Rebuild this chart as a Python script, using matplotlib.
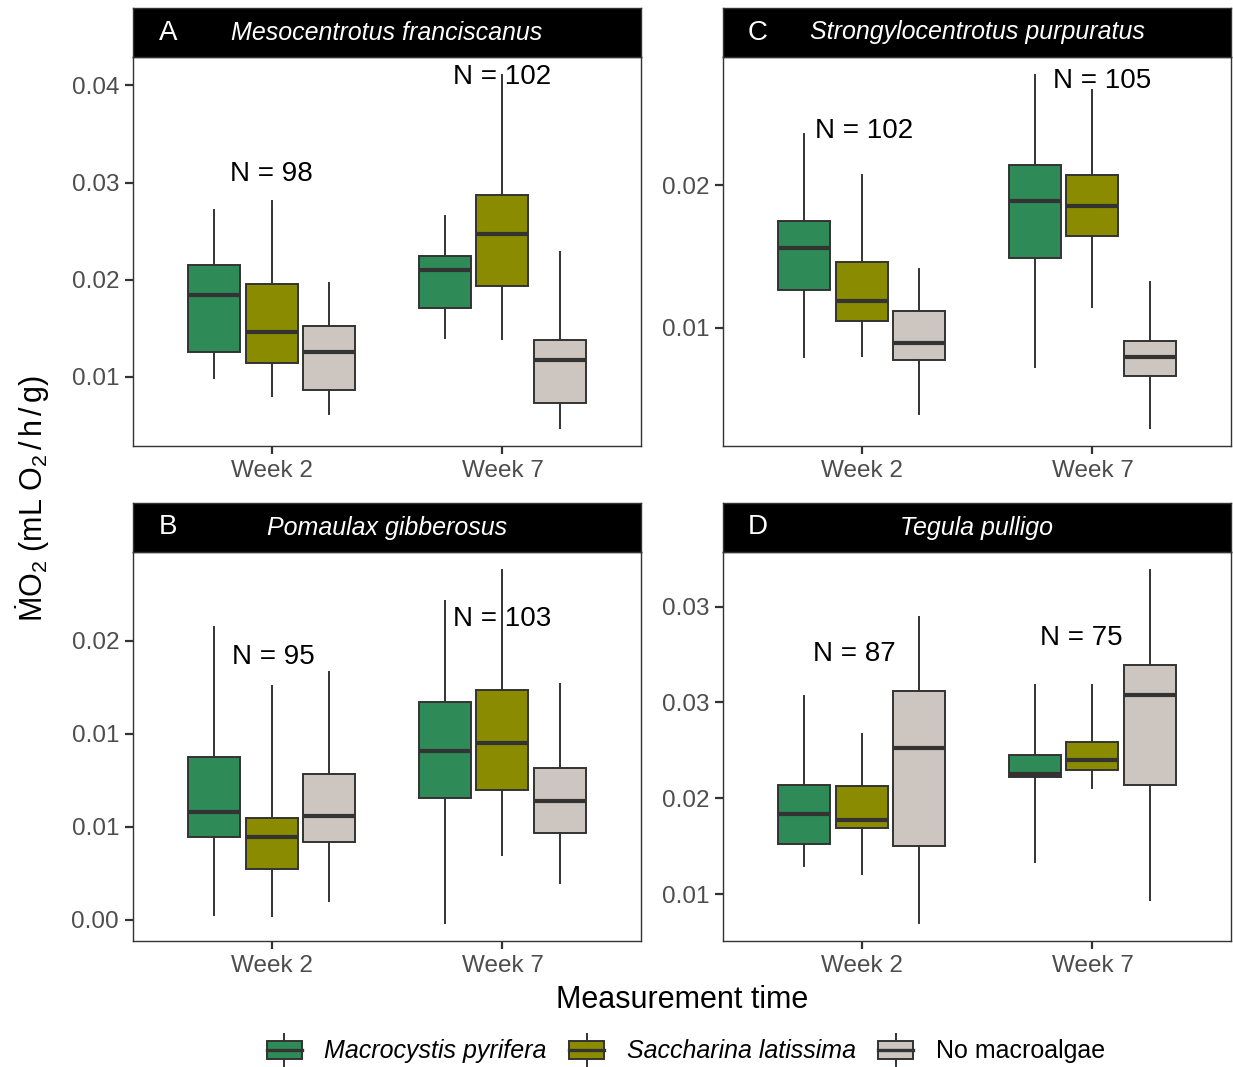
import matplotlib
matplotlib.use("Agg")
import matplotlib.pyplot as plt
from matplotlib.patches import Rectangle, Patch
from matplotlib.lines import Line2D
from matplotlib.legend_handler import HandlerBase

plt.rcParams['font.family'] = ['Liberation Sans', 'DejaVu Sans']
plt.rcParams['mathtext.fontset'] = 'custom'
plt.rcParams['mathtext.rm'] = 'Liberation Sans'
plt.rcParams['mathtext.it'] = 'Liberation Sans:italic'

weeks = ['Week 2', 'Week 7']
treatments = ['Macrocystis pyrifera', 'Saccharina latissima', 'No macroalgae']
colors = ['#2E8B57', '#8B8B00', '#CDC5BF']

# box stats per treatment, one row per week: [whislo, q1, med, q3, whishi]
a_macro = [[0.00993, 0.01261, 0.01842, 0.02151, 0.02718], [0.01402, 0.01704, 0.02103, 0.02247, 0.02653]]
a_sacch = [[0.00804, 0.01141, 0.01464, 0.01955, 0.02808], [0.01388, 0.01938, 0.02467, 0.02873, 0.04110]]
a_none = [[0.00622, 0.00866, 0.01261, 0.01519, 0.01966], [0.00471, 0.00729, 0.01172, 0.01381, 0.02282]]

c_macro = [[0.00794, 0.01262, 0.01558, 0.01748, 0.02360], [0.00727, 0.01486, 0.01886, 0.02140, 0.02776]]
c_sacch = [[0.00801, 0.01049, 0.01187, 0.01460, 0.02075], [0.01145, 0.01647, 0.01857, 0.02070, 0.02671]]
c_none = [[0.00397, 0.00773, 0.00895, 0.01117, 0.01414], [0.00294, 0.00659, 0.00794, 0.00907, 0.01320]]

b_macro = [[0.00029, 0.00445, 0.00581, 0.00877, 0.01576], [-0.00018, 0.00656, 0.00908, 0.01171, 0.01713]]
b_sacch = [[0.00020, 0.00274, 0.00445, 0.00548, 0.01259], [0.00347, 0.00696, 0.00953, 0.01237, 0.01883]]
b_none = [[0.00102, 0.00418, 0.00559, 0.00786, 0.01335], [0.00200, 0.00469, 0.00637, 0.00817, 0.01268]]

d_macro = [[0.01648, 0.01761, 0.01919, 0.02069, 0.02533], [0.01669, 0.02110, 0.02127, 0.02228, 0.02591]]
d_sacch = [[0.01604, 0.01845, 0.01886, 0.02062, 0.02335], [0.02052, 0.02147, 0.02198, 0.02291, 0.02589]]
d_none = [[0.01348, 0.01752, 0.02260, 0.02559, 0.02947], [0.01467, 0.02069, 0.02536, 0.02695, 0.03192]]

# sample size labels
a_n, a_n_x, a_n_y = ['N = 98', 'N = 102'], [1.0, 2.0], [0.0309, 0.0409]
c_n, c_n_x, c_n_y = ['N = 102', 'N = 105'], [1.01, 2.04], [0.02379, 0.02734]
b_n, b_n_x, b_n_y = ['N = 95', 'N = 103'], [1.01, 2.0], [0.01413, 0.01618]
d_n, d_n_x, d_n_y = ['N = 87', 'N = 75'], [0.97, 1.95], [0.02753, 0.02838]

# y ticks and their (rounded) labels as printed
a_ticks, a_labels = [0.01, 0.02, 0.03, 0.04], ['0.01', '0.02', '0.03', '0.04']
c_ticks, c_labels = [0.01, 0.02], ['0.01', '0.02']
b_ticks, b_labels = [0.0, 0.005, 0.01, 0.015], ['0.00', '0.01', '0.01', '0.02']
d_ticks, d_labels = [0.015, 0.02, 0.025, 0.03], ['0.01', '0.02', '0.03', '0.03']

panels = [
    ('A', 'Mesocentrotus franciscanus', [a_macro, a_sacch, a_none], a_n, a_n_x, a_n_y, a_ticks, a_labels, (133, 8)),
    ('C', 'Strongylocentrotus purpuratus', [c_macro, c_sacch, c_none], c_n, c_n_x, c_n_y, c_ticks, c_labels, (723, 8)),
    ('B', 'Pomaulax gibberosus', [b_macro, b_sacch, b_none], b_n, b_n_x, b_n_y, b_ticks, b_labels, (133, 503)),
    ('D', 'Tegula pulligo', [d_macro, d_sacch, d_none], d_n, d_n_x, d_n_y, d_ticks, d_labels, (723, 503)),
]

W, H = 1233, 1067
PW, SH, PH = 508, 49, 389
EDGE = '#333333'

fig = plt.figure(figsize=(W / 100, H / 100), dpi=100)

for letter, species, groups, nlab, nx, ny, ticks, tlabels, (px, py) in panels:
    ax = fig.add_axes([px / W, (H - py - SH - PH) / H, PW / W, PH / H])
    lo, hi = 1, -1
    for j, (grp, col) in enumerate(zip(groups, colors)):
        stats = []
        for row in grp:
            stats.append(dict(whislo=row[0], q1=row[1], med=row[2], q3=row[3], whishi=row[4]))
            lo, hi = min(lo, row[0]), max(hi, row[4])
        pos = [1 + (j - 1) * 0.25, 2 + (j - 1) * 0.25]
        ax.bxp(stats, positions=pos, widths=0.225, patch_artist=True, showfliers=False, showcaps=False,
               boxprops=dict(facecolor=col, edgecolor=EDGE, linewidth=1.4),
               medianprops=dict(color=EDGE, linewidth=3),
               whiskerprops=dict(color=EDGE, linewidth=1.4))
    pad = (hi - lo) * 0.05
    ax.set_ylim(lo - pad, hi + pad)
    ax.set_xlim(0.4, 2.6)
    ax.set_xticks([1, 2], weeks)
    ax.set_yticks(ticks, tlabels)
    ax.tick_params(axis='both', colors=EDGE, labelcolor='#4D4D4D', labelsize=17.5, length=6, width=1.6, pad=4)
    for s in ax.spines.values():
        s.set_color(EDGE)
        s.set_linewidth(1.0)
    for t, x, y in zip(nlab, nx, ny):
        ax.text(x, y, t, ha='center', va='center', fontsize=20, color='black')

    sx = fig.add_axes([px / W, (H - py - SH) / H, PW / W, SH / H])
    sx.set_facecolor('black')
    sx.set_xticks([])
    sx.set_yticks([])
    for s in sx.spines.values():
        s.set_color(EDGE)
        s.set_linewidth(1.0)
    sx.text(35 / PW, 0.5, letter, color='white', fontsize=20, ha='center', va='center')
    sx.text(0.5, 0.5, species, color='white', fontsize=18, style='italic', ha='center', va='center')

fig.text(33 / W, 0.533, r'$\dot{\mathrm{M}}\mathrm{O}_2\ (\mathrm{mL\ O}_2\,/\,\mathrm{h}\,/\,\mathrm{g})$',
         rotation=90, ha='center', va='center', fontsize=22)
fig.text(682 / W, (H - 1000) / H, 'Measurement time', ha='center', va='center', fontsize=22)


class BoxKey(HandlerBase):
    def create_artists(self, legend, orig_handle, xdescent, ydescent, width, height, fontsize, trans):
        x0, y0 = -xdescent, -ydescent
        rect = Rectangle((x0, y0 + height * 0.18), width, height * 0.64,
                         facecolor=orig_handle.get_facecolor(), edgecolor=EDGE, lw=1.4, transform=trans)
        med = Line2D([x0, x0 + width], [y0 + height / 2] * 2, color=EDGE, lw=2.4, transform=trans)
        wt = Line2D([x0 + width / 2] * 2, [y0 + height * 0.82, y0 + height * 1.05], color=EDGE, lw=1.4, transform=trans)
        wb = Line2D([x0 + width / 2] * 2, [y0 - height * 0.05, y0 + height * 0.18], color=EDGE, lw=1.4, transform=trans)
        return [rect, med, wt, wb]


handles = [Patch(facecolor=c) for c in colors]
leg = fig.legend(handles, treatments, loc='center', bbox_to_anchor=(686 / W, (H - 1050) / H), ncol=3,
                 frameon=False, fontsize=18, handlelength=1.4, handleheight=1.4, handletextpad=0.9,
                 columnspacing=0.9, handler_map={Patch: BoxKey()})
for t in leg.get_texts()[:2]:
    t.set_fontstyle('italic')

fig.savefig('out.png', dpi=100)
